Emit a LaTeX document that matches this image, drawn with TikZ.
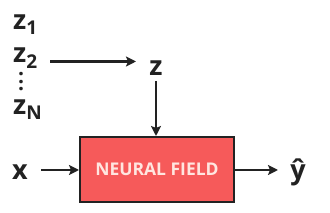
\documentclass[tikz,border=0pt]{standalone}
\usepackage{fontspec}
\setmainfont{Open Sans}
\usetikzlibrary{arrows.meta}
\definecolor{ink}{HTML}{222222}
\definecolor{nfred}{HTML}{F65A5A}
\definecolor{nftext}{HTML}{FFE6E0}
\newcommand{\mydots}{\vbox{\baselineskip=7.6pt\lineskiplimit=-20pt\lineskip=0pt\hbox{.}\hbox{.}\hbox{.}}}
\begin{document}
\begin{tikzpicture}[x=1pt,y=-1pt,
  lbl/.style={inner sep=0pt, text=ink, font=\fontsize{27}{27}\selectfont\bfseries},
  conn/.style={draw=ink, line width=2.2pt, -{Stealth[length=10pt,width=10pt,inset=2pt]}},
  nfbox/.style={draw=ink, line width=2pt, fill=nfred, minimum width=154pt, minimum height=65pt, inner sep=0pt, text=nftext, font=\fontsize{17.5}{17.5}\selectfont\bfseries}]
\useasboundingbox (0,0) rectangle (330,213);
\node[lbl, anchor=base west] (z1) at (13,30) {z\textsubscript{\fontsize{19}{19}\selectfont 1}};
\node[lbl, anchor=base west] (z2) at (13,63) {z\textsubscript{\fontsize{19}{19}\selectfont 2}};
\node[lbl, anchor=base, font=\fontsize{21}{21}\selectfont\bfseries] (vd) at (21,91) {\mydots};
\node[lbl, anchor=base west] (zN) at (13,115) {z\textsubscript{\fontsize{19}{19}\selectfont N}};
\node[lbl, anchor=base] (z) at (156,76) {z};
\node[nfbox] (nf) at (157,169.5) {NEURAL FIELD};
\node[lbl, anchor=base] (x) at (20,180) {x};
\node[lbl, anchor=base] (yh) at (298,180) {ŷ};
\coordinate (a1) at (50,61.5);
\coordinate (a2) at (136,61.5);
\draw[conn] (a1) -- (a2);
\draw[conn] (z.south |- 0,81) -- (z.south |- nf.north);
\draw[conn] (41,170) -- (nf.west |- 0,170);
\draw[conn] (nf.east |- 0,170) -- (278,170);
\end{tikzpicture}
\end{document}
